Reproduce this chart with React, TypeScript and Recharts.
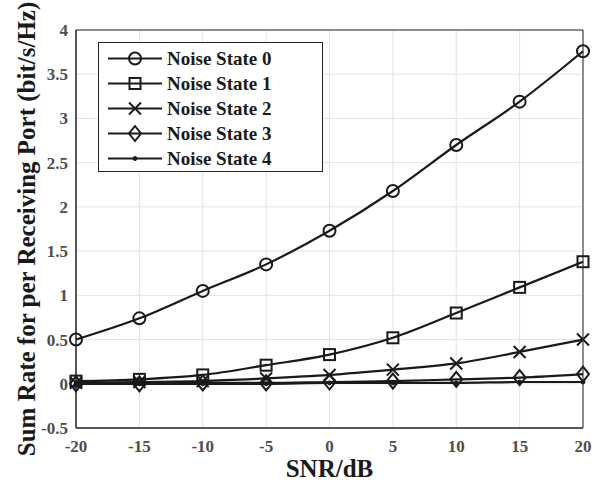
import React from "react";
import { LineChart, Line, XAxis, YAxis, CartesianGrid, Legend } from "recharts";

const snr = [-20, -15, -10, -5, 0, 5, 10, 15, 20];
const state0 = [0.5, 0.74, 1.05, 1.35, 1.73, 2.18, 2.7, 3.19, 3.76];
const state1 = [0.03, 0.05, 0.1, 0.21, 0.33, 0.52, 0.8, 1.09, 1.38];
const state2 = [0.01, 0.02, 0.03, 0.06, 0.1, 0.16, 0.23, 0.36, 0.5];
const state3 = [0.0, 0.0, 0.01, 0.01, 0.02, 0.03, 0.05, 0.07, 0.11];
const state4 = [0.0, 0.0, 0.0, 0.0, 0.01, 0.01, 0.01, 0.02, 0.02];
const seriesNames = ["Noise State 0", "Noise State 1", "Noise State 2", "Noise State 3", "Noise State 4"];
const xTicks = [-20, -15, -10, -5, 0, 5, 10, 15, 20];
const yTicks = [-0.5, 0, 0.5, 1, 1.5, 2, 2.5, 3, 3.5, 4];

const allSeries = [state0, state1, state2, state3, state4];
const rows = snr.map((x, i) => {
  const r: Record<string, number> = { snr: x };
  allSeries.forEach((s, k) => (r["s" + k] = s[i]));
  return r;
});

const FONT = "'Liberation Serif', 'Times New Roman', serif";
const INK = "#1a1a1a";
const TICK = "#4d4d4d";
const shapes = ["circle", "square", "cross", "diamond", "dot"];

function Marker({ shape, cx, cy }: { shape: string; cx: number; cy: number }) {
  const sw = 2;
  if (shape === "circle") return <circle cx={cx} cy={cy} r={6} fill="none" stroke={INK} strokeWidth={sw} />;
  if (shape === "square") return <rect x={cx - 5.5} y={cy - 5.5} width={11} height={11} fill="none" stroke={INK} strokeWidth={sw} />;
  if (shape === "cross")
    return (
      <path d={`M${cx - 6},${cy - 6}L${cx + 6},${cy + 6}M${cx - 6},${cy + 6}L${cx + 6},${cy - 6}`} stroke={INK} strokeWidth={sw} fill="none" />
    );
  if (shape === "diamond")
    return <path d={`M${cx},${cy - 7.5}L${cx + 6},${cy}L${cx},${cy + 7.5}L${cx - 6},${cy}Z`} fill="none" stroke={INK} strokeWidth={sw} />;
  return <circle cx={cx} cy={cy} r={2} fill={INK} stroke={INK} />;
}

function makeDot(shape: string) {
  return (p: any) => <Marker key={`${shape}-${p.index}`} shape={shape} cx={p.cx} cy={p.cy} />;
}

function LegendBox() {
  return (
    <div style={{ border: "1px solid #262626", background: "#fff", width: 225, height: 130, boxSizing: "border-box", paddingTop: 3 }}>
      {seriesNames.map((n, i) => (
        <div key={n} style={{ display: "flex", alignItems: "center", height: 25 }}>
          <svg width={68} height={25} style={{ display: "block" }}>
            <line x1={9} x2={63} y1={12.5} y2={12.5} stroke={INK} strokeWidth={2} />
            <Marker shape={shapes[i]} cx={36} cy={12.5} />
          </svg>
          <span style={{ fontFamily: FONT, fontWeight: "bold", fontSize: 19, color: INK, whiteSpace: "nowrap" }}>{n}</span>
        </div>
      ))}
    </div>
  );
}

const YLabel = (props: any) => {
  const vb = props.viewBox;
  const cy = vb.y + vb.height / 2;
  return (
    <text x={26} y={cy} transform={`rotate(-90, 26, ${cy})`} textAnchor="middle" dominantBaseline="central"
      fontFamily={FONT} fontWeight="bold" fontSize={25} fill={INK}>
      Sum Rate for per Receiving Port (bit/s/Hz)
    </text>
  );
};

const XLabel = (props: any) => {
  const vb = props.viewBox;
  return (
    <text x={vb.x + vb.width / 2} y={477} textAnchor="middle" fontFamily={FONT} fontWeight="bold" fontSize={25} fill={INK}>
      SNR/dB
    </text>
  );
};

export default function App() {
  const tickStyle = { fill: TICK, fontSize: 17, fontFamily: FONT, fontWeight: "bold" as const };
  return (
    <div style={{ position: "absolute", left: 0, top: 0, width: 606, height: 485, background: "#fff" }}>
      <LineChart width={606} height={485} data={rows} margin={{ top: 30, right: 23, left: 0, bottom: 0 }}>
        <CartesianGrid stroke="#e3e3e3" strokeWidth={1} />
        <XAxis dataKey="snr" type="number" domain={[-20, 20]} ticks={xTicks} height={57} tick={tickStyle}
          tickLine={false} tickMargin={6} axisLine={{ stroke: "#262626" }} label={<XLabel />} />
        <XAxis xAxisId="tb" dataKey="snr" type="number" domain={[-20, 20]} ticks={xTicks} orientation="bottom" mirror
          tick={false} tickSize={5} tickLine={{ stroke: "#262626" }} axisLine={{ stroke: "#262626" }} />
        <XAxis xAxisId="tt" dataKey="snr" type="number" domain={[-20, 20]} ticks={xTicks} orientation="top" mirror
          tick={false} tickSize={5} tickLine={{ stroke: "#262626" }} axisLine={{ stroke: "#262626" }} />
        <YAxis type="number" domain={[-0.5, 4]} ticks={yTicks} width={76} tick={tickStyle} tickLine={false}
          axisLine={{ stroke: "#262626" }} label={<YLabel />} />
        <YAxis yAxisId="yl" type="number" domain={[-0.5, 4]} ticks={yTicks} orientation="left" mirror tick={false}
          tickSize={5} tickLine={{ stroke: "#262626" }} axisLine={{ stroke: "#262626" }} />
        <YAxis yAxisId="yr" type="number" domain={[-0.5, 4]} ticks={yTicks} orientation="right" mirror tick={false}
          tickSize={5} tickLine={{ stroke: "#262626" }} axisLine={{ stroke: "#262626" }} />
        {seriesNames.map((n, k) => (
          <Line key={n} dataKey={"s" + k} name={n} type="monotone" stroke={INK} strokeWidth={2.2}
            dot={makeDot(shapes[k])} activeDot={false} isAnimationActive={false} />
        ))}
        <Legend layout="vertical" align="center" verticalAlign="middle" content={<LegendBox />}
          wrapperStyle={{ position: "absolute", left: 98, top: 42, width: 225, height: 130 }} />
      </LineChart>
    </div>
  );
}
